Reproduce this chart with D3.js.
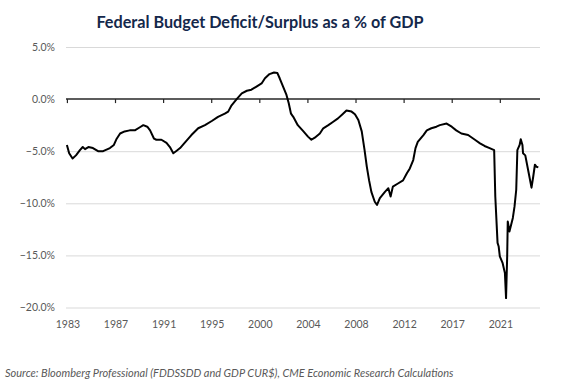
<!DOCTYPE html>
<html>
<head>
<meta charset="utf-8">
<script src="https://cdn.jsdelivr.net/npm/d3@7"></script>
<style>
  html, body { margin: 0; padding: 0; background: #ffffff; }
  svg { display: block; }
</style>
</head>
<body>
<svg id="chart" width="566" height="391"></svg>
<script>
// ---- data (decimal year, % of GDP) ----
const years = [
  1983.0, 1983.2, 1983.5, 1983.8, 1984.15, 1984.4, 1984.6, 1984.9, 1985.3, 1985.75,
  1986.2, 1986.8, 1987.15, 1987.4, 1987.7, 1988.1, 1988.55, 1989.0, 1989.45, 1989.75,
  1990.1, 1990.35, 1990.7, 1990.9, 1991.35, 1991.8, 1992.1, 1992.4, 1992.7, 1993.0,
  1993.4, 1994.0, 1994.6, 1995.2, 1995.8, 1996.35, 1996.95, 1997.25, 1997.55, 1998.0,
  1998.45, 1998.9, 1999.3, 1999.75, 2000.2, 2000.5, 2000.9, 2001.3, 2001.6, 2001.8,
  2002.1, 2002.4, 2002.6, 2002.8, 2003.0, 2003.4, 2003.9, 2004.3, 2004.6, 2004.9,
  2005.35, 2005.65, 2006.1, 2006.5, 2006.95, 2007.4, 2007.7, 2008.15, 2008.45, 2008.75,
  2009.05, 2009.3, 2009.5, 2009.7, 2009.9, 2010.2, 2010.4, 2010.65, 2011.1, 2011.4,
  2011.6, 2011.8, 2012.25, 2012.7, 2013.05, 2013.3, 2013.6, 2013.8, 2014.0, 2014.5,
  2014.8, 2015.2, 2015.65, 2015.95, 2016.55, 2017.0, 2017.4, 2017.85, 2018.45, 2019.05,
  2019.5, 2019.9, 2020.35, 2020.75, 2020.85, 2021.05, 2021.15, 2021.25, 2021.5, 2021.7,
  2021.8, 2021.9, 2021.95, 2022.1, 2022.4, 2022.55, 2022.7, 2022.8, 2023.0, 2023.1,
  2023.25, 2023.3, 2023.5, 2023.75, 2024.05, 2024.2, 2024.35, 2024.5, 2024.65
];
const deficitPct = [
  -4.4, -5.2, -5.7, -5.4, -4.9, -4.6, -4.8, -4.6, -4.7, -5.0,
  -5.0, -4.7, -4.4, -3.8, -3.3, -3.1, -3.0, -3.0, -2.7, -2.5,
  -2.65, -3.0, -3.8, -3.9, -3.9, -4.2, -4.6, -5.2, -4.95, -4.7,
  -4.2, -3.45, -2.8, -2.5, -2.1, -1.7, -1.4, -1.2, -0.6, 0.0,
  0.55, 0.8, 0.9, 1.2, 1.5, 2.0, 2.4, 2.55, 2.5, 2.0,
  1.2, 0.4, -0.4, -1.4, -1.7, -2.5, -3.1, -3.6, -3.9, -3.7,
  -3.3, -2.8, -2.5, -2.2, -1.85, -1.4, -1.1, -1.2, -1.45, -2.0,
  -3.1, -4.9, -6.5, -7.8, -8.9, -9.85, -10.15, -9.5, -8.9, -8.55,
  -9.35, -8.4, -8.1, -7.8, -7.1, -6.65, -5.85, -4.7, -4.1, -3.45,
  -3.0, -2.8, -2.65, -2.5, -2.35, -2.65, -3.0, -3.3, -3.45, -3.9,
  -4.25, -4.5, -4.7, -4.9, -9.35, -13.8, -14.15, -15.1, -15.75, -16.7,
  -19.1, -15.1, -11.75, -12.7, -11.4, -10.3, -8.7, -4.9, -4.4, -3.85,
  -4.4, -5.2, -5.4, -6.8, -8.5, -7.45, -6.3, -6.5, -6.55
];
const yTicks = [5, 0, -5, -10, -15, -20];
const xTickYears = [1983.0, 1987.25, 1991.5, 1995.75, 2000.0, 2004.25, 2008.5, 2012.75, 2017.0, 2021.25];
const xTickLabels = ["1983", "1987", "1991", "1995", "2000", "2004", "2008", "2012", "2017", "2021"];
const titleText = "Federal Budget Deficit/Surplus as a % of GDP";
const sourceText = "Source: Bloomberg Professional (FDDSSDD and GDP CUR$), CME Economic Research Calculations";

// ---- layout ----
const svg = d3.select("#chart");
const plot = { left: 66, right: 540, top: 47, bottom: 307.5 };

const x = d3.scaleLinear().domain([1982.92, 2024.8]).range([plot.left, plot.right]);
const y = d3.scaleLinear().domain([-20, 5]).range([plot.bottom, plot.top]);

const font = "Lato, 'Open Sans', sans-serif";

// title
svg.append("text")
  .attr("x", 260).attr("y", 28)
  .attr("text-anchor", "middle")
  .attr("font-family", font)
  .attr("font-weight", 700)
  .attr("font-size", 16.2)
  .attr("fill", "#14284b")
  .text(titleText);

// gridlines + y labels
const yAxis = d3.axisLeft(y).tickValues(yTicks)
  .tickSize(-(plot.right - plot.left))
  .tickPadding(11)
  .tickFormat(d => d3.format(".1f")(d) + "%");
const gy = svg.append("g").attr("transform", `translate(${plot.left},0)`).call(yAxis);
gy.select(".domain").remove();
gy.selectAll(".tick line").attr("stroke", "#d9d9d9").attr("stroke-width", 1)
  .filter(d => d === 0).remove();
gy.selectAll(".tick text")
  .attr("font-family", font).attr("font-size", 10.5).attr("fill", "#595959");

// zero axis line with ticks
const xAxis = d3.axisBottom(x).tickValues(xTickYears).tickSize(4).tickFormat("");
const gx = svg.append("g").attr("transform", `translate(0,${y(0)})`).call(xAxis);
gx.select(".domain").attr("stroke", "#262626").attr("stroke-width", 1.5)
  .attr("d", `M${plot.left},0H${plot.right}`);
gx.selectAll(".tick line").attr("stroke", "#262626").attr("stroke-width", 1.2);

// x labels at the bottom
svg.append("g").selectAll("text")
  .data(xTickYears)
  .join("text")
  .attr("x", d => x(d) + 1)
  .attr("y", 328)
  .attr("text-anchor", "middle")
  .attr("font-family", font).attr("font-size", 10.5).attr("fill", "#595959")
  .text((d, i) => xTickLabels[i]);

// line
const data = years.map((yr, i) => ({ yr, v: deficitPct[i] }));
svg.append("path")
  .datum(data)
  .attr("fill", "none")
  .attr("stroke", "#000")
  .attr("stroke-width", 2)
  .attr("stroke-linejoin", "round")
  .attr("d", d3.line().x(d => x(d.yr)).y(d => y(d.v)));

// source
svg.append("text")
  .attr("x", 5).attr("y", 377)
  .attr("font-family", font)
  .attr("font-style", "italic")
  .attr("font-size", 11)
  .attr("fill", "#595959")
  .text(sourceText);
</script>
</body>
</html>
